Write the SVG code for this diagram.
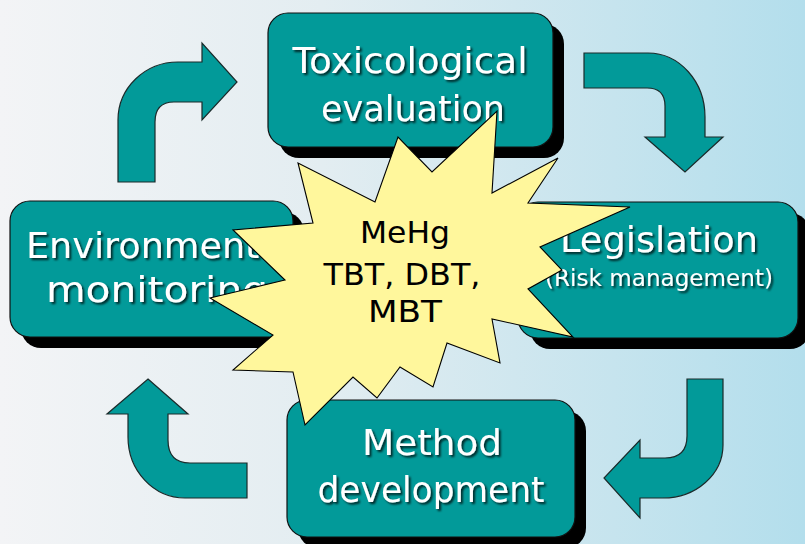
<svg xmlns="http://www.w3.org/2000/svg" width="805" height="544" viewBox="0 0 805 544">
<defs>
<linearGradient id="bg" x1="0" y1="0" x2="1" y2="0">
<stop offset="0" stop-color="#f3f4f6"/>
<stop offset="0.4" stop-color="#e3edf1"/>
<stop offset="1" stop-color="#b3deec"/>
</linearGradient>
<filter id="ts" x="-10%" y="-20%" width="120%" height="150%">
<feDropShadow dx="2" dy="2" stdDeviation="0.9" flood-color="#000" flood-opacity="0.75"/>
</filter>
</defs>
<style>
.box{fill:#029a99;stroke:#111;stroke-width:1.2}
.shadow{fill:#000}
.arrow{fill:#029a99;stroke:#1a2a2a;stroke-width:1.2;stroke-linejoin:miter}
.lbl{font-family:"DejaVu Sans","Noto Sans",sans-serif;fill:#fff;text-anchor:middle;filter:url(#ts)}
.big{font-size:35px}
.small{font-size:23px}
.star{fill:#fff79c;stroke:#000;stroke-width:1.1;stroke-linejoin:miter}
.stxt{font-family:"DejaVu Sans","Noto Sans",sans-serif;fill:#000;font-size:31px;text-anchor:middle}
</style>
<rect x="0" y="0" width="805" height="544" fill="url(#bg)"/>

<g id="connectors">
<path class="arrow" d="M118,182 L118,120 A60 58 0 0 1 178,62 L202,62 L202,43 L237,82 L202,120 L202,102 L174,102 Q155,102 155,122 L155,182 Z"/>
<path class="arrow" d="M584,53 L648,53 A57 64 0 0 1 705,117 L705,137 L723,137 L685,172 L645,137 L665,137 L665,106 Q665,88 647,88 L584,88 Z"/>
<path class="arrow" d="M687,379 L723,379 L723,445 A60 53 0 0 1 663,498 L640,498 L640,518 L604,478 L640,440 L640,458 L665,458 Q687,458 687,436 Z"/>
<path class="arrow" d="M148,379 L188,414 L168,414 L168,440 Q168,463 190,463 L247,463 L247,498 L185,498 A57 61 0 0 1 128,437 L128,414 L107,414 Z"/>
</g>

<g id="toxicological">
<rect class="shadow" x="279" y="24" width="285" height="134" rx="20"/>
<rect class="box" x="268" y="13" width="285" height="134" rx="20"/>
<text class="lbl big" x="410" y="73" textLength="235" lengthAdjust="spacingAndGlyphs">Toxicological</text>
<text class="lbl big" x="413" y="121" textLength="184" lengthAdjust="spacingAndGlyphs">evaluation</text>
</g>

<g id="environmental">
<rect class="shadow" x="21" y="212" width="283" height="136" rx="20"/>
<rect class="box" x="10" y="201" width="283" height="136" rx="20"/>
<text class="lbl big" x="159" y="258" textLength="266" lengthAdjust="spacingAndGlyphs">Environmental</text>
<text class="lbl big" x="157" y="302" textLength="222" lengthAdjust="spacingAndGlyphs">monitoring</text>
</g>

<g id="legislation">
<rect class="shadow" x="530" y="213" width="280" height="136" rx="20"/>
<rect class="box" x="518" y="202" width="280" height="136" rx="20"/>
<text class="lbl big" x="659" y="252" textLength="198" lengthAdjust="spacingAndGlyphs">Legislation</text>
<text class="lbl small" x="659" y="286" textLength="228" lengthAdjust="spacingAndGlyphs">(Risk management)</text>
</g>

<g id="method">
<rect class="shadow" x="298" y="411" width="288" height="137" rx="20"/>
<rect class="box" x="287" y="400" width="288" height="137" rx="20"/>
<text class="lbl big" x="432" y="455" textLength="140" lengthAdjust="spacingAndGlyphs">Method</text>
<text class="lbl big" x="431" y="502" textLength="227" lengthAdjust="spacingAndGlyphs">development</text>
</g>

<g id="center">
<polygon class="star" points="497,111 492,193 558,158 528,203 630,207 540,247 562,270 528,289 573,337 492,319 500,363 447,343 433,387 400,367 377,398 353,377 305,425 293,372 233,370 273,335 210,298 285,280 233,230 313,223 298,163 375,202 398,137 432,172"/>
<text class="stxt" x="405" y="243" textLength="90" lengthAdjust="spacingAndGlyphs">MeHg</text>
<text class="stxt" x="402" y="285" textLength="157" lengthAdjust="spacingAndGlyphs">TBT, DBT,</text>
<text class="stxt" x="405" y="322" textLength="74" lengthAdjust="spacingAndGlyphs">MBT</text>
</g>
</svg>
